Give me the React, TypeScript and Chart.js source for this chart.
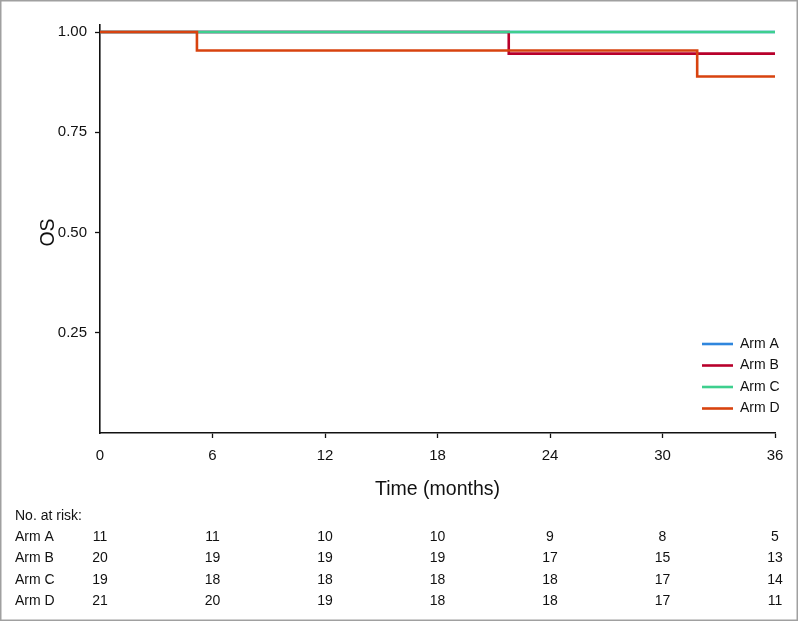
import React, { useEffect, useRef } from "react";
import { Chart, registerables } from "chart.js";

Chart.register(...registerables);

const armNames = ["Arm A", "Arm B", "Arm C", "Arm D"];
const armColors = ["#2f86dd", "#b8002b", "#3ecf8e", "#d8430f"];

const armATimes = [0, 36];
const armASurv = [1, 1];
const armBTimes = [0, 21.8, 36];
const armBSurv = [1, 0.946, 0.946];
const armCTimes = [0, 36];
const armCSurv = [1, 1];
const armDTimes = [0, 5.17, 31.85, 36];
const armDSurv = [1, 0.954, 0.889, 0.889];

const xTicks = [0, 6, 12, 18, 24, 30, 36];
const yTicks = [0.25, 0.5, 0.75, 1.0];

const riskTimes = [0, 6, 12, 18, 24, 30, 36];
const riskA = [11, 11, 10, 10, 9, 8, 5];
const riskB = [20, 19, 19, 19, 17, 15, 13];
const riskC = [19, 18, 18, 18, 18, 17, 14];
const riskD = [21, 20, 19, 18, 18, 17, 11];

const FONT = "'Liberation Sans', Arial, Helvetica, sans-serif";
const W = 798;
const H = 621;

function pts(t: number[], s: number[]) {
  return t.map((x, i) => ({ x, y: s[i] }));
}

export default function App() {
  const ref = useRef<HTMLCanvasElement | null>(null);

  useEffect(() => {
    document.body.style.margin = "0";
    const canvas = ref.current;
    if (!canvas) return;

    const extras = {
      id: "extras",
      afterDraw(chart: any) {
        const ctx = chart.ctx as CanvasRenderingContext2D;
        const xs = chart.scales.x;
        ctx.save();
        ctx.strokeStyle = "#a0a0a0";
        ctx.lineWidth = 1.5;
        ctx.strokeRect(0.75, 0.75, W - 1.5, H - 1.5);

        ctx.fillStyle = "#111";
        ctx.textBaseline = "middle";
        ctx.textAlign = "center";
        ctx.font = `19.5px ${FONT}`;
        ctx.fillText("Time (months)", (chart.chartArea.left + chart.chartArea.right) / 2, 490);
        ctx.save();
        ctx.translate(49, (chart.chartArea.top + 7 + chart.chartArea.bottom) / 2);
        ctx.rotate(-Math.PI / 2);
        ctx.fillText("OS", 0, 0);
        ctx.restore();

        ctx.font = `14px ${FONT}`;
        ctx.textAlign = "left";
        const legY = [344, 365.5, 387, 408.5];
        armNames.forEach((n, i) => {
          ctx.strokeStyle = armColors[i];
          ctx.lineWidth = 2.6;
          ctx.beginPath();
          ctx.moveTo(702, legY[i]);
          ctx.lineTo(733, legY[i]);
          ctx.stroke();
          ctx.fillStyle = "#111";
          ctx.fillText(n, 740, legY[i]);
        });

        ctx.font = `14px ${FONT}`;
        ctx.fillStyle = "#111";
        ctx.textAlign = "left";
        ctx.fillText("No. at risk:", 15, 516.5);
        const rows = [riskA, riskB, riskC, riskD];
        const rowY = [537.5, 558.5, 580, 601.5];
        rows.forEach((r, i) => {
          ctx.textAlign = "left";
          ctx.fillText(armNames[i], 15, rowY[i]);
          ctx.textAlign = "center";
          r.forEach((v, j) => {
            ctx.fillText(String(v), xs.getPixelForValue(riskTimes[j]), rowY[i]);
          });
        });
        ctx.restore();
      },
    };

    const series = [
      pts(armATimes, armASurv),
      pts(armBTimes, armBSurv),
      pts(armCTimes, armCSurv),
      pts(armDTimes, armDSurv),
    ];

    const chart = new Chart(canvas, {
      type: "line",
      data: {
        datasets: series.map((d, i) => ({
          label: armNames[i],
          data: d,
          borderColor: armColors[i],
          backgroundColor: armColors[i],
          borderWidth: 2.6,
          pointRadius: 0,
          stepped: "before" as const,
          fill: false,
          order: 4 - i,
        })),
      },
      options: {
        responsive: false,
        animation: false,
        devicePixelRatio: 1,
        layout: { padding: { top: 25, right: 23, left: 0, bottom: 0 } },
        plugins: {
          legend: { display: false },
          tooltip: { enabled: false },
          title: { display: false },
        },
        scales: {
          x: {
            type: "linear",
            min: 0,
            max: 36,
            afterBuildTicks: (s: any) => {
              s.ticks = xTicks.map((v) => ({ value: v }));
            },
            afterFit: (s: any) => {
              s.height = 188;
            },
            ticks: {
              color: "#111",
              font: { family: FONT, size: 15 },
              padding: 9,
              maxRotation: 0,
              callback: (v: any) => String(v),
            },
            grid: {
              display: true,
              drawOnChartArea: false,
              drawTicks: true,
              tickLength: 5,
              tickColor: (c: any) => (c.tick && c.tick.value === 0 ? "rgba(0,0,0,0)" : "#111"),
              tickWidth: 1.3,
            },
            border: { display: true, color: "#111", width: 1.6 },
          },
          y: {
            type: "linear",
            min: 0,
            max: 1.0175,
            afterBuildTicks: (s: any) => {
              s.ticks = yTicks.map((v) => ({ value: v }));
            },
            afterFit: (s: any) => {
              s.width = 100;
            },
            ticks: {
              color: "#111",
              font: { family: FONT, size: 15 },
              padding: 8,
              callback: (v: any) => Number(v).toFixed(2),
            },
            grid: {
              display: true,
              drawOnChartArea: false,
              drawTicks: true,
              tickLength: 5,
              tickColor: "#111",
              tickWidth: 1.3,
            },
            border: { display: true, color: "#111", width: 1.6 },
          },
        },
      },
      plugins: [extras],
    });

    return () => chart.destroy();
  }, []);

  return (
    <div style={{ position: "fixed", left: 0, top: 0, width: W, height: H, background: "#fff" }}>
      <canvas ref={ref} width={W} height={H} style={{ display: "block", width: W, height: H }} />
    </div>
  );
}
